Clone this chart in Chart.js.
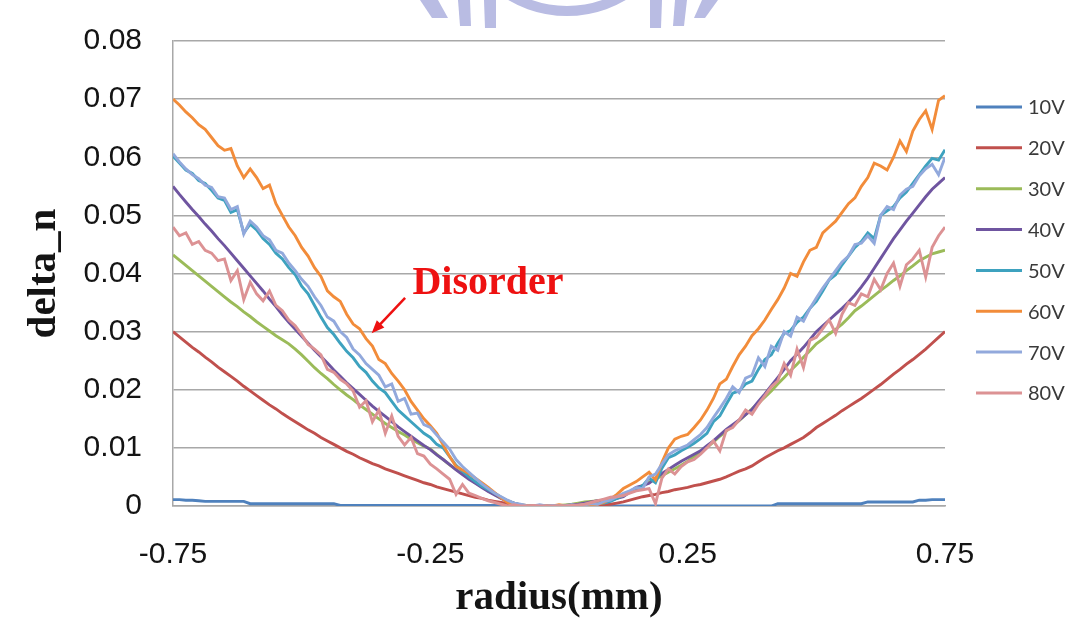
<!DOCTYPE html>
<html><head><meta charset="utf-8">
<script src="https://cdn.jsdelivr.net/npm/chart.js@4.4.1/dist/chart.umd.min.js"></script>
<style>html,body{margin:0;padding:0;background:#fff;}canvas{display:block;}</style>
</head><body>
<canvas id="c" width="1072" height="619"></canvas>
<script>
// radius (mm) sample positions
const radius = [-0.75,-0.7375,-0.725,-0.7125,-0.7,-0.6875,-0.675,-0.6625,-0.65,-0.6375,-0.625,-0.6125,-0.6,-0.5875,-0.575,-0.5625,-0.55,-0.5375,-0.525,-0.5125,-0.5,-0.4875,-0.475,-0.4625,-0.45,-0.4375,-0.425,-0.4125,-0.4,-0.3875,-0.375,-0.3625,-0.35,-0.3375,-0.325,-0.3125,-0.3,-0.2875,-0.275,-0.2625,-0.25,-0.2375,-0.225,-0.2125,-0.2,-0.1875,-0.175,-0.1625,-0.15,-0.1375,-0.125,-0.1125,-0.1,-0.0875,-0.075,-0.0625,-0.05,-0.0375,-0.025,-0.0125,0,0.0125,0.025,0.0375,0.05,0.0625,0.075,0.0875,0.1,0.1125,0.125,0.1375,0.15,0.1625,0.175,0.1875,0.2,0.2125,0.225,0.2375,0.25,0.2625,0.275,0.2875,0.3,0.3125,0.325,0.3375,0.35,0.3625,0.375,0.3875,0.4,0.4125,0.425,0.4375,0.45,0.4625,0.475,0.4875,0.5,0.5125,0.525,0.5375,0.55,0.5625,0.575,0.5875,0.6,0.6125,0.625,0.6375,0.65,0.6625,0.675,0.6875,0.7,0.7125,0.725,0.7375,0.75];
const xTickValues = [-0.75,-0.25,0.25,0.75];
const yMin = 0, yMax = 0.08, yStep = 0.01;
const seriesNames = ['10V','20V','30V','40V','50V','60V','70V','80V'];

const v10 = [0.0011,0.0011,0.0010,0.0010,0.0009,0.0008,0.0008,0.0008,0.0008,0.0008,
0.0008,0.0008,0.0004,0.0004,0.0004,0.0004,0.0004,0.0004,0.0004,0.0004,
0.0004,0.0004,0.0004,0.0004,0.0004,0.0004,0.0001,0.0001,0.0001,0.0001,
0.0001,0.0001,0.0001,0.0001,0.0001,0.0001,0.0001,0.0001,0.0001,0.0001,
0.0001,0.0001,0.0001,0.0001,0.0001,0.0001,0.0001,0.0001,0.0001,0.0001,
0.0001,0.0001,0.0001,0.0001,0,0,0,0,0,0,
0,0,0,0,0,0,0,0,0,0,
0,0,0,0,0,0,0,0,0,0,
0,0,0,0,0,0,0,0,0,0,
0,0,0,0,0.0004,0.0004,0.0004,0.0004,0.0004,0.0004,
0.0004,0.0004,0.0004,0.0004,0.0004,0.0004,0.0004,0.0004,0.0007,0.0007,
0.0007,0.0007,0.0007,0.0007,0.0007,0.0007,0.0010,0.0010,0.0011,0.0011,
0.0011];
const v20 = [0.0300,0.0291,0.0282,0.0273,0.0265,0.0256,0.0248,0.0239,0.0231,0.0223,
0.0215,0.0206,0.0198,0.0190,0.0182,0.0174,0.0167,0.0159,0.0152,0.0145,
0.0138,0.0131,0.0125,0.0118,0.0112,0.0106,0.0100,0.0094,0.0089,0.0083,
0.0078,0.0073,0.0069,0.0064,0.0060,0.0056,0.0052,0.0048,0.0044,0.0040,
0.0037,0.0033,0.0030,0.0027,0.0024,0.0021,0.0018,0.0015,0.0013,0.0010,
0.0008,0.0006,0.0004,0.0002,0.0001,0.0001,0,0,0,0,
0,0,0,0,0,0,0.0001,0.0002,0.0003,0.0005,
0.0007,0.0010,0.0013,0.0016,0.0018,0.0020,0.0023,0.0025,0.0028,0.0030,
0.0032,0.0035,0.0037,0.0040,0.0043,0.0046,0.0050,0.0055,0.0060,0.0064,
0.0069,0.0076,0.0083,0.0089,0.0095,0.0100,0.0106,0.0112,0.0118,0.0126,
0.0135,0.0142,0.0149,0.0156,0.0164,0.0171,0.0178,0.0185,0.0193,0.0201,
0.0209,0.0218,0.0227,0.0235,0.0244,0.0252,0.0261,0.0270,0.0280,0.0290,
0.0300];
const v30 = [0.0432,0.0423,0.0414,0.0405,0.0396,0.0387,0.0378,0.0369,0.0360,0.0351,
0.0343,0.0334,0.0326,0.0317,0.0309,0.0301,0.0293,0.0286,0.0279,0.0270,
0.0260,0.0249,0.0238,0.0228,0.0219,0.0209,0.0200,0.0191,0.0183,0.0174,
0.0166,0.0158,0.0150,0.0142,0.0135,0.0128,0.0122,0.0115,0.0109,0.0103,
0.0098,0.0089,0.0080,0.0071,0.0063,0.0055,0.0048,0.0040,0.0033,0.0026,
0.0020,0.0014,0.0009,0.0005,0.0002,0.0001,0,0,0,0.0001,
0.0001,0.0002,0.0003,0.0005,0.0007,0.0008,0.0009,0.0010,0.0012,0.0016,
0.0020,0.0025,0.0030,0.0035,0.0041,0.0046,0.0052,0.0058,0.0064,0.0070,
0.0077,0.0085,0.0093,0.0101,0.0110,0.0120,0.0129,0.0138,0.0147,0.0157,
0.0167,0.0177,0.0187,0.0198,0.0210,0.0221,0.0233,0.0244,0.0256,0.0267,
0.0279,0.0287,0.0296,0.0304,0.0313,0.0324,0.0336,0.0344,0.0353,0.0362,
0.0371,0.0379,0.0388,0.0396,0.0405,0.0413,0.0422,0.0428,0.0434,0.0437,
0.0440];
const v40 = [0.0550,0.0536,0.0523,0.0510,0.0498,0.0485,0.0473,0.0460,0.0448,0.0435,
0.0422,0.0409,0.0396,0.0383,0.0370,0.0356,0.0343,0.0329,0.0316,0.0304,
0.0292,0.0280,0.0268,0.0257,0.0246,0.0234,0.0223,0.0212,0.0202,0.0192,
0.0182,0.0172,0.0163,0.0154,0.0145,0.0136,0.0128,0.0120,0.0112,0.0104,
0.0097,0.0088,0.0080,0.0071,0.0062,0.0054,0.0046,0.0039,0.0032,0.0025,
0.0019,0.0013,0.0008,0.0005,0.0002,0.0001,0,0,0,0,
0.0001,0.0001,0.0002,0.0003,0.0005,0.0007,0.0009,0.0010,0.0010,0.0013,
0.0016,0.0024,0.0032,0.0035,0.0039,0.0048,0.0056,0.0063,0.0070,0.0077,
0.0083,0.0089,0.0095,0.0104,0.0112,0.0122,0.0132,0.0140,0.0148,0.0157,
0.0166,0.0180,0.0193,0.0207,0.0221,0.0235,0.0250,0.0261,0.0273,0.0286,
0.0300,0.0310,0.0320,0.0330,0.0340,0.0351,0.0363,0.0377,0.0392,0.0409,
0.0426,0.0443,0.0460,0.0475,0.0490,0.0504,0.0518,0.0532,0.0545,0.0555,
0.0565];
const v50 = [0.0602,0.0590,0.0578,0.0572,0.0560,0.0555,0.0543,0.0530,0.0526,0.0505,
0.0510,0.0470,0.0485,0.0475,0.0460,0.0450,0.0435,0.0425,0.0410,0.0398,
0.0378,0.0365,0.0345,0.0325,0.0307,0.0295,0.0280,0.0266,0.0255,0.0240,
0.0230,0.0215,0.0203,0.0195,0.0180,0.0165,0.0155,0.0145,0.0135,0.0125,
0.0118,0.0106,0.0100,0.0085,0.0070,0.0060,0.0050,0.0042,0.0034,0.0028,
0.0022,0.0015,0.0009,0.0005,0.0002,0,0,0,0.0001,0,
0,0.0001,0,0.0001,0.0003,0.0002,0.0004,0.0005,0.0008,0.0013,
0.0018,0.0024,0.0028,0.0035,0.0048,0.0040,0.0065,0.0083,0.0088,0.0095,
0.0101,0.0108,0.0116,0.0125,0.0145,0.0155,0.0175,0.0194,0.0198,0.0210,
0.0215,0.0235,0.0252,0.0260,0.0280,0.0297,0.0302,0.0316,0.0325,0.0340,
0.0352,0.0370,0.0389,0.0398,0.0415,0.0430,0.0445,0.0455,0.0470,0.0460,
0.0500,0.0508,0.0515,0.0530,0.0540,0.0555,0.0570,0.0585,0.0598,0.0595,
0.0613];
const v60 = [0.0700,0.0690,0.0678,0.0668,0.0656,0.0648,0.0634,0.0620,0.0612,0.0615,
0.0585,0.0565,0.0580,0.0565,0.0546,0.0552,0.0520,0.0500,0.0480,0.0465,
0.0445,0.0430,0.0410,0.0395,0.0370,0.0360,0.0352,0.0330,0.0313,0.0305,
0.0288,0.0275,0.0252,0.0245,0.0228,0.0215,0.0200,0.0180,0.0165,0.0150,
0.0138,0.0125,0.0105,0.0085,0.0068,0.0062,0.0056,0.0048,0.0040,0.0032,
0.0023,0.0014,0.0006,0.0002,0,0.0001,0,0,0.0001,0,
0.0002,0,0.0001,0,0.0002,0,0.0003,0.0006,0.0012,0.0020,
0.0030,0.0036,0.0042,0.0050,0.0058,0.0045,0.0075,0.0100,0.0115,0.0120,
0.0123,0.0135,0.0148,0.0165,0.0185,0.0210,0.0218,0.0240,0.0260,0.0275,
0.0293,0.0305,0.0320,0.0338,0.0355,0.0375,0.0400,0.0395,0.0420,0.0440,
0.0445,0.0470,0.0480,0.0490,0.0505,0.0520,0.0530,0.0550,0.0565,0.0590,
0.0585,0.0578,0.0600,0.0628,0.0610,0.0645,0.0665,0.0680,0.0648,0.0698,
0.0706];
const v70 = [0.0606,0.0592,0.0580,0.0570,0.0563,0.0552,0.0548,0.0532,0.0530,0.0510,
0.0515,0.0468,0.0490,0.0480,0.0465,0.0458,0.0440,0.0435,0.0418,0.0405,
0.0390,0.0378,0.0360,0.0345,0.0325,0.0318,0.0300,0.0290,0.0270,0.0260,
0.0245,0.0235,0.0225,0.0205,0.0210,0.0180,0.0185,0.0158,0.0160,0.0140,
0.0135,0.0122,0.0110,0.0098,0.0080,0.0068,0.0058,0.0048,0.0038,0.0030,
0.0022,0.0016,0.0010,0.0005,0.0003,0,0,0.0002,0,0.0001,
0,0,0.0002,0,0.0002,0.0004,0.0003,0.0008,0.0010,0.0016,
0.0022,0.0026,0.0032,0.0030,0.0050,0.0055,0.0072,0.0088,0.0095,0.0100,
0.0105,0.0114,0.0123,0.0135,0.0152,0.0168,0.0185,0.0205,0.0195,0.0220,
0.0225,0.0255,0.0240,0.0275,0.0268,0.0300,0.0292,0.0325,0.0318,0.0340,
0.0358,0.0375,0.0390,0.0405,0.0420,0.0430,0.0450,0.0452,0.0465,0.0452,
0.0500,0.0515,0.0510,0.0535,0.0545,0.0550,0.0568,0.0580,0.0588,0.0570,
0.0600];
const v80 = [0.0480,0.0465,0.0470,0.0450,0.0455,0.0440,0.0435,0.0422,0.0425,0.0388,
0.0405,0.0355,0.0385,0.0365,0.0353,0.0370,0.0345,0.0336,0.0320,0.0310,
0.0295,0.0278,0.0270,0.0260,0.0235,0.0230,0.0218,0.0210,0.0198,0.0170,
0.0181,0.0145,0.0165,0.0125,0.0155,0.0120,0.0105,0.0118,0.0090,0.0086,
0.0072,0.0064,0.0055,0.0046,0.0020,0.0037,0.0022,0.0018,0.0013,0.0009,
0.0006,0.0003,0,0.0002,0,0,0.0001,0,0,0,
0,0,0.0001,0.0002,0.0003,0.0006,0.0009,0.0012,0.0015,0.0016,
0.0018,0.0022,0.0026,0.0028,0.0030,0.0004,0.0048,0.0064,0.0055,0.0068,
0.0076,0.0080,0.0089,0.0100,0.0112,0.0095,0.0130,0.0135,0.0148,0.0165,
0.0158,0.0175,0.0190,0.0205,0.0215,0.0245,0.0225,0.0270,0.0238,0.0285,
0.0290,0.0305,0.0320,0.0297,0.0330,0.0350,0.0345,0.0365,0.0360,0.0390,
0.0372,0.0400,0.0418,0.0378,0.0415,0.0425,0.0440,0.0394,0.0445,0.0465,
0.0480];

const seriesValues = [v10, v20, v30, v40, v50, v60, v70, v80];
const seriesColors = ['#4f81bd','#c0504d','#9bbb59','#6f55a0','#3ea2bf','#f28c3a','#92a9dc','#dc9294'];

// annotation anchored in data coordinates
const annotation = { text: 'Disorder', tx: -0.138, ty: 0.0382, ax0: -0.299, ay0: 0.0358, ax1: -0.364, ay1: 0.0297 };

const GRID = '#a8a8a8';
const TICKFONT = { family: 'Liberation Sans', size: 30 };
const TITLEFONT = { family: 'Liberation Serif', size: 41, weight: 'bold', lineHeight: 1 };

const datasets = seriesNames.map((name, i) => ({
  label: name,
  data: radius.map((x, k) => ({ x: x, y: seriesValues[i][k] })),
  borderColor: seriesColors[i],
  backgroundColor: seriesColors[i],
  borderWidth: 2.9,
  pointRadius: 0,
  tension: 0,
  fill: false,
  order: seriesNames.length - 1 - i
}));

const sideLegend = {
  id: 'sideLegend',
  afterDraw(chart) {
    const ctx = chart.ctx, ca = chart.chartArea;
    ctx.save();
    ctx.font = '20px Lato';
    ctx.textBaseline = 'middle';
    ctx.textAlign = 'left';
    chart.data.datasets.forEach((ds, i) => {
      const y = ca.top + 66 + i * 40.85;
      ctx.strokeStyle = ds.borderColor;
      ctx.lineWidth = 3;
      ctx.beginPath();
      ctx.moveTo(ca.right + 31, y);
      ctx.lineTo(ca.right + 77, y);
      ctx.stroke();
      ctx.fillStyle = '#3a3a3a';
      ctx.fillText(ds.label, ca.right + 83, y + 1);
    });
    ctx.restore();
  }
};

const annotate = {
  id: 'annotate',
  afterDatasetsDraw(chart) {
    const ctx = chart.ctx, xs = chart.scales.x, ys = chart.scales.y;
    const tx = xs.getPixelForValue(annotation.tx), ty = ys.getPixelForValue(annotation.ty);
    const x0 = xs.getPixelForValue(annotation.ax0), y0 = ys.getPixelForValue(annotation.ay0);
    const x1 = xs.getPixelForValue(annotation.ax1), y1 = ys.getPixelForValue(annotation.ay1);
    ctx.save();
    ctx.fillStyle = '#ee1111';
    ctx.font = 'bold 40px "Liberation Serif"';
    ctx.textAlign = 'center';
    ctx.textBaseline = 'middle';
    ctx.fillText(annotation.text, tx, ty);
    ctx.strokeStyle = '#ee1111';
    ctx.lineWidth = 2.5;
    const ang = Math.atan2(y1 - y0, x1 - x0);
    const hl = 14;
    const bx = x1 - Math.cos(ang) * hl * 0.8, by = y1 - Math.sin(ang) * hl * 0.8;
    ctx.beginPath(); ctx.moveTo(x0, y0); ctx.lineTo(bx, by); ctx.stroke();
    ctx.beginPath();
    ctx.moveTo(x1, y1);
    ctx.lineTo(x1 - hl * Math.cos(ang - 0.38), y1 - hl * Math.sin(ang - 0.38));
    ctx.lineTo(x1 - hl * Math.cos(ang + 0.38), y1 - hl * Math.sin(ang + 0.38));
    ctx.closePath(); ctx.fill();
    ctx.restore();
  }
};

const watermark = {
  id: 'watermark',
  beforeDraw(chart) {
    const ctx = chart.ctx;
    ctx.save();
    ctx.fillStyle = '#b9bce3';
    // partial emblem cut by the top edge
    ctx.beginPath();
    ctx.arc(567, -100, 116, 0.28 * Math.PI, 0.72 * Math.PI);
    ctx.arc(567, -100, 106, 0.72 * Math.PI, 0.28 * Math.PI, true);
    ctx.closePath(); ctx.fill();
    const bars = [[420,0,438,0,448,18,432,18],[458,0,470,0,471,26,460,26],[484,0,496,0,496,28,485,28],[650,0,662,0,661,28,650,28],[675,0,687,0,684,26,673,26],[702,0,718,0,705,18,694,18]];
    bars.forEach(b => { ctx.beginPath(); ctx.moveTo(b[0],b[1]); ctx.lineTo(b[2],b[3]); ctx.lineTo(b[4],b[5]); ctx.lineTo(b[6],b[7]); ctx.closePath(); ctx.fill(); });
    ctx.restore();
  }
};

new Chart(document.getElementById('c'), {
  type: 'line',
  data: { datasets: datasets },
  options: {
    responsive: false,
    animation: false,
    devicePixelRatio: 1,
    layout: { padding: { left: 0, right: 127, top: 41, bottom: 0 } },
    plugins: { legend: { display: false }, tooltip: { enabled: false } },
    scales: {
      x: {
        type: 'linear',
        min: -0.75, max: 0.75,
        afterBuildTicks: s => { s.ticks = xTickValues.map(v => ({ value: v })); },
        afterFit: s => { s.height = 113; },
        ticks: { font: TICKFONT, color: '#141414', padding: 31, maxRotation: 0, autoSkip: false, callback: v => String(v) },
        grid: { display: false, drawTicks: false },
        border: { display: true, color: GRID, width: 1.5 },
        title: { display: true, text: 'radius(mm)', font: TITLEFONT, color: '#141414', padding: { top: 0, bottom: 0 } }
      },
      y: {
        min: yMin, max: yMax,
        afterFit: s => { s.width = 173; },
        ticks: { stepSize: yStep, font: TICKFONT, color: '#141414', padding: 0, callback: v => (Math.abs(v) < 1e-9 ? '0' : v.toFixed(2)) },
        grid: { color: GRID, lineWidth: 1.5, drawTicks: true, tickLength: 31, tickColor: 'rgba(0,0,0,0)' },
        border: { display: true, color: GRID, width: 1.5 },
        title: { display: true, text: 'delta_n', font: TITLEFONT, color: '#141414', padding: { top: 24, bottom: 0 } }
      }
    }
  },
  plugins: [watermark, annotate, sideLegend]
});
</script>
</body></html>
